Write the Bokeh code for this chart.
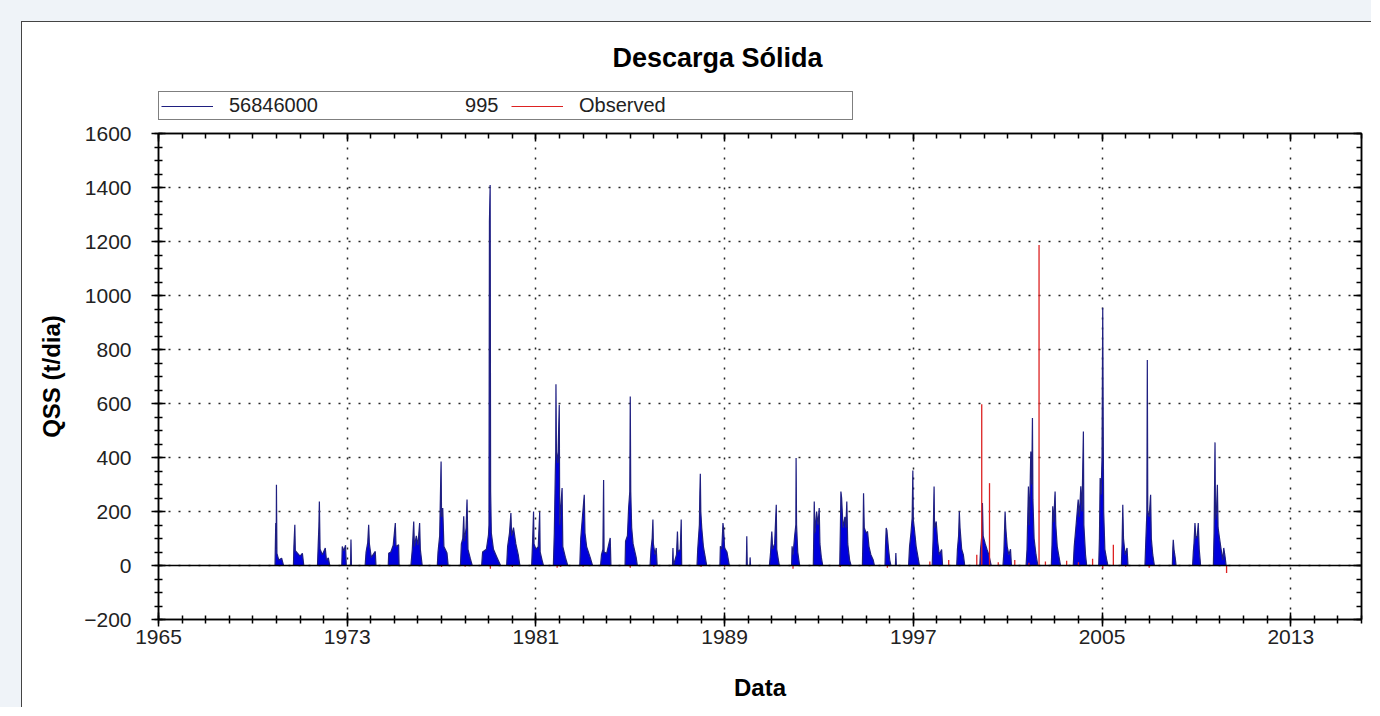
from bokeh.plotting import figure
from bokeh.models import (ColumnDataSource, FixedTicker, LinearAxis, Span, Legend,
                          LegendItem, Label, Range1d)
from bokeh.layouts import column
from bokeh.embed import file_html
from bokeh.resources import INLINE

FONT = "Liberation Sans"
NAN = float("nan")

# ---------------- data ----------------
x_major = [1965, 1973, 1981, 1989, 1997, 2005, 2013]
x_minor = [1965, 1966, 1967, 1968, 1969, 1970, 1971, 1972, 1973, 1974, 1975, 1976, 1977,
           1978, 1979, 1980, 1981, 1982, 1983, 1984, 1985, 1986, 1987, 1988, 1989, 1990,
           1991, 1992, 1993, 1994, 1995, 1996, 1997, 1998, 1999, 2000, 2001, 2002, 2003,
           2004, 2005, 2006, 2007, 2008, 2009, 2010, 2011, 2012, 2013, 2014, 2015, 2016]
y_major = [-200, 0, 200, 400, 600, 800, 1000, 1200, 1400, 1600]
y_minor = [-200, -150, -100, -50, 0, 50, 100, 150, 200, 250, 300, 350, 400, 450, 500, 550,
           600, 650, 700, 750, 800, 850, 900, 950, 1000, 1050, 1100, 1150, 1200, 1250, 1300,
           1350, 1400, 1450, 1500, 1550, 1600]

# simulated daily QSS (station 56846000) (decimal years, t/dia)
sim_year = [
    1969.94, 1969.97, 1969.99, 1970.00, 1970.02, 1970.10, 1970.22, 1970.30,
    1970.72, 1970.74, 1970.78, 1970.80, 1970.90, 1971.00, 1971.10, 1971.16,
    1971.74, 1971.77, 1971.80, 1971.82, 1971.85, 1971.95, 1972.07, 1972.12, 1972.20, 1972.26,
    1972.77, 1972.79, 1972.86, 1972.93, 1972.96, 1973.14, 1973.16, 1973.18,
    1973.76, 1973.80, 1973.87, 1973.91, 1973.94, 1974.02, 1974.19, 1974.22,
    1974.74, 1974.76, 1974.85, 1974.95, 1975.04, 1975.07, 1975.18, 1975.20,
    1975.70, 1975.76, 1975.82, 1975.85, 1975.93, 1976.00, 1976.07, 1976.10, 1976.18,
    1976.82, 1976.85, 1976.92, 1976.95, 1976.98, 1977.00, 1977.05, 1977.10, 1977.23, 1977.28,
    1977.80, 1977.84, 1977.90, 1977.94, 1977.97, 1978.04, 1978.08, 1978.12, 1978.22, 1978.30,
    1978.70, 1978.74, 1978.90, 1978.99, 1979.01, 1979.03, 1979.06, 1979.08, 1979.11, 1979.20,
    1979.35, 1979.45, 1979.50,
    1979.76, 1979.80, 1979.88, 1979.94, 1979.97, 1980.05, 1980.15, 1980.25, 1980.32,
    1980.82, 1980.86, 1980.90, 1980.92, 1981.00, 1981.10, 1981.16, 1981.18, 1981.26, 1981.32,
    1981.74, 1981.78, 1981.82, 1981.84, 1981.85, 1981.87, 1981.93, 1981.99, 1982.01, 1982.06,
    1982.11, 1982.14, 1982.25, 1982.35,
    1982.86, 1982.90, 1982.98, 1983.05, 1983.08, 1983.15, 1983.30, 1983.40,
    1983.74, 1983.78, 1983.84, 1983.87, 1983.89, 1984.00, 1984.15, 1984.18,
    1984.78, 1984.80, 1984.88, 1984.93, 1984.98, 1985.00, 1985.02, 1985.06, 1985.12, 1985.25,
    1985.30,
    1985.84, 1985.88, 1985.93, 1985.96, 1985.98, 1986.05, 1986.10, 1986.14,
    1986.79, 1986.81, 1986.83, 1986.96, 1987.00, 1987.03, 1987.12, 1987.16, 1987.18,
    1987.83, 1987.86, 1987.93, 1987.95, 1987.97, 1987.99, 1988.03, 1988.10, 1988.20, 1988.24,
    1988.80, 1988.82, 1988.88, 1988.93, 1988.96, 1989.00, 1989.10, 1989.15, 1989.20,
    1989.92, 1989.94, 1989.96, 1990.07, 1990.08, 1990.10,
    1990.90, 1990.95, 1991.00, 1991.04, 1991.12, 1991.19, 1991.21, 1991.28, 1991.32,
    1991.84, 1991.86, 1991.90, 1991.97, 1992.02, 1992.03, 1992.05, 1992.10, 1992.18,
    1992.76, 1992.78, 1992.80, 1992.83, 1992.90, 1992.96, 1993.01, 1993.04, 1993.10, 1993.16,
    1993.88, 1993.91, 1993.93, 1993.96, 1994.02, 1994.10, 1994.14, 1994.18, 1994.22, 1994.30,
    1994.36,
    1994.84, 1994.87, 1994.89, 1994.92, 1995.00, 1995.06, 1995.12, 1995.20, 1995.30, 1995.35,
    1995.80, 1995.82, 1995.85, 1995.88, 1995.95, 1996.00, 1996.05, 1996.24, 1996.26, 1996.28,
    1996.80, 1996.84, 1996.90, 1996.95, 1996.98, 1997.00, 1997.05, 1997.12, 1997.20, 1997.26,
    1997.80, 1997.84, 1997.88, 1997.90, 1997.97, 1998.03, 1998.10, 1998.20, 1998.24,
    1998.84, 1998.87, 1998.92, 1998.95, 1998.98, 1999.05, 1999.12, 1999.18,
    1999.82, 1999.85, 1999.90, 1999.93, 1999.96, 2000.05, 2000.12, 2000.20, 2000.30,
    2000.80, 2000.84, 2000.89, 2000.92, 2000.98, 2001.05, 2001.12, 2001.16,
    2001.78, 2001.82, 2001.88, 2001.92, 2001.98, 2002.02, 2002.05, 2002.07, 2002.12, 2002.20,
    2002.28,
    2002.85, 2002.88, 2002.91, 2002.95, 2003.01, 2003.04, 2003.10, 2003.18, 2003.24,
    2003.78, 2003.82, 2003.90, 2003.99, 2004.04, 2004.10, 2004.15, 2004.21, 2004.23, 2004.30,
    2004.35,
    2004.86, 2004.89, 2004.92, 2004.96, 2005.00, 2005.03, 2005.05, 2005.07, 2005.12, 2005.20,
    2005.25,
    2005.82, 2005.85, 2005.88, 2005.91, 2005.98, 2006.06, 2006.10,
    2006.82, 2006.86, 2006.90, 2006.92, 2006.94, 2007.00, 2007.06, 2007.09, 2007.15, 2007.22,
    2007.98, 2008.00, 2008.02, 2008.05, 2008.10, 2008.14,
    2008.84, 2008.87, 2008.90, 2008.94, 2008.98, 2009.04, 2009.08, 2009.12, 2009.18,
    2009.72, 2009.75, 2009.79, 2009.81, 2009.85, 2009.89, 2009.92, 2009.98, 2010.05, 2010.12,
    2010.16, 2010.22, 2010.26,
]
sim_qss = [
    0, 157, 60, 299, 45, 20, 27, 0,
    0, 70, 151, 55, 45, 35, 45, 0,
    0, 75, 145, 237, 60, 40, 65, 20, 28, 0,
    0, 70, 55, 75, 0, 0, 96, 0,
    0, 50, 85, 151, 80, 30, 52, 0,
    0, 45, 50, 75, 157, 70, 77, 0,
    0, 60, 163, 70, 110, 75, 157, 60, 0,
    0, 50, 110, 250, 385, 180, 213, 70, 46, 0,
    0, 80, 100, 182, 90, 139, 244, 60, 25, 0,
    0, 50, 60, 114, 150, 1273, 1409, 274, 120, 60,
    30, 10, 0,
    0, 70, 120, 194, 110, 140, 80, 40, 0,
    0, 90, 200, 80, 60, 70, 198, 50, 20, 0,
    0, 120, 330, 420, 671, 420, 380, 595, 150, 225,
    287, 70, 30, 0,
    0, 100, 188, 262, 120, 70, 30, 0,
    0, 40, 60, 317, 50, 45, 102, 0,
    0, 90, 110, 213, 274, 626, 274, 140, 80, 30,
    0,
    0, 60, 102, 170, 80, 40, 65, 0,
    0, 65, 0, 40, 126, 50, 60, 170, 0,
    0, 60, 151, 268, 340, 200, 140, 70, 20, 0,
    0, 71, 60, 157, 130, 65, 50, 25, 0,
    0, 108, 0, 0, 30, 0,
    0, 50, 126, 60, 80, 225, 60, 20, 0,
    0, 71, 40, 110, 151, 398, 150, 50, 0,
    0, 110, 237, 120, 200, 150, 213, 80, 30, 0,
    0, 150, 274, 250, 140, 180, 140, 237, 80, 20,
    0,
    0, 120, 268, 140, 120, 126, 70, 40, 20, 0,
    0, 70, 139, 130, 60, 20, 0, 0, 46, 0,
    0, 70, 120, 176, 352, 170, 130, 70, 30, 0,
    0, 100, 293, 140, 163, 90, 40, 59, 0,
    0, 60, 110, 200, 140, 60, 40, 0,
    0, 60, 108, 231, 110, 80, 60, 40, 0,
    0, 50, 200, 139, 70, 40, 60, 0,
    0, 60, 293, 150, 422, 300, 546, 243, 100, 40,
    0,
    0, 80, 219, 160, 274, 150, 70, 30, 0,
    0, 70, 150, 244, 180, 293, 200, 496, 150, 40,
    0,
    0, 100, 324, 262, 400, 955, 509, 200, 60, 20,
    0,
    0, 80, 225, 100, 40, 65, 0,
    0, 100, 194, 761, 200, 180, 262, 100, 40, 0,
    0, 60, 95, 60, 30, 0,
    0, 50, 83, 157, 100, 110, 157, 60, 0,
    0, 120, 456, 170, 200, 299, 140, 102, 59, 20,
    65, 30, 0,
]

# observed samples
obs_year = [1977.00, 1978.00, 1979.07, 1980.00, 1981.90, 1982.05, 1983.00, 1985.00, 1986.00,
            1988.00, 1989.00, 1991.90, 1993.90, 1995.90, 1997.70, 1998.50, 1999.69, 1999.90,
            2000.23, 2000.60, 2001.30, 2001.90, 2002.33, 2002.60, 2003.50, 2004.00, 2004.60,
            2005.03, 2005.48, 2006.00, 2007.00, 2010.28]
obs_qss = [-6, -5, -12, -6, -8, -6, -5, -8, -5,
           -6, -5, -12, -6, -8, 15, 20, 40, 597,
           305, 12, 20, 10, 1187, 15, 18, 12, 25,
           -10, 77, -5, -8, -28]

title_text = "Descarga Sólida"
legend_labels = ["56846000", "Observed"]
legend_extra = "995"

SIM_FILL = "#0000dd"
SIM_LINE = "#1f1f80"
OBS_LINE = "#dd2222"

xr = Range1d(1965, 2016)

# ---------------- header (title + legend), frame aligned with the main plot ----------------
HH = 99
header = figure(width=1350, height=HH, x_range=xr, y_range=Range1d(0, HH),
                output_backend="svg", toolbar_location=None, title=None,
                x_axis_location=None, y_axis_location=None,
                min_border_left=136, min_border_right=11, min_border_top=0,
                min_border_bottom=0,
                outline_line_color=None, background_fill_color="white",
                border_fill_color="white")
header.grid.visible = False

leg_sim = header.line(x=[NAN], y=[NAN], line_color=SIM_LINE, line_width=1.2)
leg_obs = header.line(x=[NAN], y=[NAN], line_color=OBS_LINE, line_width=1.2)

header.add_layout(Label(x=1988.70, y=64, text=title_text, text_align="center",
                        text_baseline="middle", text_font=FONT, text_font_size="27px",
                        text_font_style="bold", text_color="black"))

legend = Legend(items=[LegendItem(label=legend_labels[0], renderers=[leg_sim]),
                       LegendItem(label=legend_labels[1], renderers=[leg_obs])],
                orientation="horizontal", location=(0, 1), margin=0, padding=2,
                glyph_width=52, glyph_height=20, label_standoff=16, label_width=271,
                label_height=20, spacing=11,
                label_text_font=FONT, label_text_font_size="20px", label_text_color="#222222",
                border_line_color="black", border_line_width=1.2,
                background_fill_color="white", background_fill_alpha=0.0)
header.add_layout(legend)

header.add_layout(Label(x=1979.41, y=17, text=legend_extra, text_align="right",
                        text_baseline="middle", text_font=FONT, text_font_size="20px",
                        text_color="#222222", level="overlay"))

# ---------------- main plot ----------------
p = figure(width=1350, height=587,
           x_range=xr, y_range=Range1d(-200, 1600),
           output_backend="svg", toolbar_location=None, title=None,
           min_border_left=136, min_border_right=11, min_border_top=13, min_border_bottom=88,
           background_fill_color="white", border_fill_color="white")

p.outline_line_color = "black"
p.outline_line_width = 1.5

xt = FixedTicker(ticks=x_major, minor_ticks=x_minor)
yt = FixedTicker(ticks=y_major, minor_ticks=y_minor)

for ax in (p.xaxis[0], p.yaxis[0]):
    ax.major_label_text_font = FONT
    ax.major_label_text_font_size = "21px"
    ax.major_label_text_color = "#222222"
    ax.axis_label_text_font = FONT
    ax.axis_label_text_font_size = "24px"
    ax.axis_label_text_font_style = "bold"
    ax.axis_label_text_color = "black"
    ax.axis_line_color = "black"
    ax.axis_line_width = 1.5
    ax.major_tick_line_color = "black"
    ax.minor_tick_line_color = "black"
    ax.major_tick_line_width = 1.5
    ax.minor_tick_line_width = 1.5
    ax.major_tick_in = 7
    ax.major_tick_out = 7
    ax.minor_tick_in = 4
    ax.minor_tick_out = 4

p.xaxis[0].ticker = xt
p.yaxis[0].ticker = yt
p.xaxis[0].axis_label = "Data"
p.yaxis[0].axis_label = "QSS (t/dia)"
p.xaxis[0].major_label_standoff = 3
p.xaxis[0].axis_label_standoff = 27
p.yaxis[0].major_label_standoff = 20
p.yaxis[0].axis_label_standoff = 16

top_axis = LinearAxis(ticker=xt, major_label_overrides={t: "" for t in x_major},
                      major_label_text_color=None, major_label_standoff=0,
                      major_tick_in=8, major_tick_out=0, minor_tick_in=5, minor_tick_out=0,
                      axis_line_width=1.5, major_tick_line_width=1.5, minor_tick_line_width=1.5)
right_axis = LinearAxis(ticker=yt, major_label_overrides={t: "" for t in y_major},
                        major_label_text_color=None, major_label_standoff=0,
                        major_tick_in=8, major_tick_out=0, minor_tick_in=5, minor_tick_out=0,
                        axis_line_width=1.5, major_tick_line_width=1.5, minor_tick_line_width=1.5)
p.add_layout(top_axis, "above")
p.add_layout(right_axis, "right")

p.xgrid.ticker = xt
p.ygrid.ticker = yt
p.grid.grid_line_color = "black"
p.grid.grid_line_dash = "2 8"
p.grid.grid_line_width = 1.5
p.grid.grid_line_alpha = 0.85

sim_src = ColumnDataSource(data=dict(t=sim_year, v=sim_qss))
obs_src = ColumnDataSource(data=dict(t=obs_year, v=obs_qss))

p.varea(x="t", y1=0, y2="v", source=sim_src, fill_color=SIM_FILL)
p.line(x="t", y="v", source=sim_src, line_color=SIM_LINE, line_width=1.2)
p.segment(x0="t", y0=0, x1="t", y1="v", source=obs_src, line_color=OBS_LINE, line_width=1.3)

p.add_layout(Span(location=0, dimension="width", line_color="black", line_width=1.5))

header.styles = {"border-left": "1px solid #444", "border-top": "1px solid #444"}
p.styles = {"border-left": "1px solid #444"}
layout = column(header, p, spacing=0,
                styles={"background-color": "white",
                        "border-left": "21px solid #eff3f8",
                        "border-top": "21px solid #eff3f8"})

open("out.html", "w").write(file_html(layout, INLINE))
